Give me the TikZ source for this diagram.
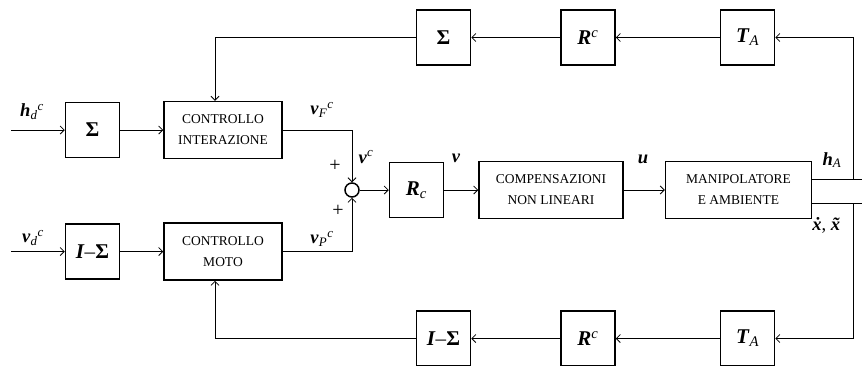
\documentclass[tikz,border=0pt]{standalone}
\usepackage{amsmath}
\usepackage{fontspec}
\setmainfont{Liberation Serif}
\usepackage{tikz}
\usetikzlibrary{arrows.meta,positioning,calc}
\newcommand{\bi}[1]{\textbf{\textit{#1}}}

\begin{document}
\begin{tikzpicture}[
  x=1pt,y=-1pt,
  blk/.style={rectangle,draw,line width=1.5pt,minimum width=54pt,minimum height=55pt,inner sep=0pt,font=\fontsize{21}{23}\selectfont},
  ctrl/.style={rectangle,draw,line width=1.5pt,minimum width=118pt,minimum height=57pt,inner sep=0pt,align=center,font=\fontsize{13.5}{21}\selectfont},
  sumnode/.style={circle,draw,line width=1.5pt,minimum size=14pt,inner sep=0pt},
  lbl/.style={inner sep=0pt,font=\fontsize{18.5}{20}\selectfont},
  sgn/.style={inner sep=0pt,font=\fontsize{20}{20}\selectfont},
  line/.style={-{Straight Barb[length=4pt,width=8pt]},line width=0.8pt}
]
  \useasboundingbox (0,0) rectangle (862,365);

  % ramo di forza
  \node[blk] (sigF) at (92.5,130) {\textbf{Σ}};
  \node[ctrl,right=43pt of sigF] (ctrlF) {CONTROLLO\\INTERAZIONE};
  % ramo di moto
  \node[blk] (sigP) at (92.5,251.5) {\bi{I}–\textbf{Σ}};
  \node[ctrl,right=43pt of sigP] (ctrlP) {CONTROLLO\\MOTO};
  % catena diretta
  \node[sumnode] (sum) at (352,190) {};
  \node[blk,right=29pt of sum] (Rc) {\bi{R}$_{\textit{c}}$};
  \node[ctrl,minimum width=144pt,right=34pt of Rc] (comp) {COMPENSAZIONI\\NON LINEARI};
  \node[ctrl,minimum width=146pt,right=41pt of comp] (manip) {MANIPOLATORE\\E AMBIENTE};
  % retroazione superiore
  \node[blk] (TF) at (747.5,37.5) {\bi{T}$_{\textit{A}}$};
  \node[blk,left=104pt of TF] (RF) {\bi{R}$^{\textit{c}}$};
  \node[blk,left=89pt of RF] (sigT) {\textbf{Σ}};
  % retroazione inferiore
  \node[blk] (TP) at (747.5,338.5) {\bi{T}$_{\textit{A}}$};
  \node[blk,left=104pt of TP] (RP) {\bi{R}$^{\textit{c}}$};
  \node[blk,left=89pt of RP] (sigB) {\bi{I}–\textbf{Σ}};

  \coordinate (hin) at (11,130);
  \coordinate (vin) at (11,251.5);
  \coordinate (hA) at ([yshift=11pt]manip.east);
  \coordinate (xd) at ([yshift=-13pt]manip.east);
  \coordinate (hAend) at (862,179);
  \coordinate (xdend) at (862,203);
  \coordinate (rtop) at (853,179);
  \coordinate (rbot) at (853,203);

  \draw[line] (hin) -- (sigF);
  \draw[line] (sigF) -- (ctrlF);
  \draw[line] (vin) -- (sigP);
  \draw[line] (sigP) -- (ctrlP);
  \draw[line] (ctrlF.east) -| (sum.north);
  \draw[line] (ctrlP.east) -| (sum.south);
  \draw[line] (sum) -- (Rc);
  \draw[line] (Rc) -- (comp);
  \draw[line] (comp) -- (manip);
  \draw[line width=0.8pt] (hA) -- (hAend);
  \draw[line width=0.8pt] (xd) -- (xdend);
  \draw[line] (rtop) |- (TF);
  \draw[line] (TF) -- (RF);
  \draw[line] (RF) -- (sigT);
  \draw[line] (sigT.west) -| ([xshift=-8pt]ctrlF.north);
  \draw[line] (rbot) |- (TP);
  \draw[line] (TP) -- (RP);
  \draw[line] (RP) -- (sigB);
  \draw[line] (sigB.west) -| ([xshift=-8pt]ctrlP.south);

  % etichette
  \node[lbl] (lhd) at (32,112) {\bi{h}$_{\textit{d}}{}^{\textit{c}}$};
  \node[lbl] (lvd) at (33,238) {\bi{v}$_{\textit{d}}{}^{\textit{c}}$};
  \node[lbl] (lvF) at (322,110) {\bi{v}$_{\textit{F}}{}^{\textit{c}}$};
  \node[lbl] (lvP) at (322,239) {\bi{v}$_{\textit{P}}{}^{\textit{c}}$};
  \node[lbl] (lvc) at (366,157) {\bi{v}$^{\textit{c}}$};
  \node[sgn] (pl1) at (335,166) {+};
  \node[sgn] (pl2) at (338,211) {+};
  \node[lbl] (lv) at (456,158) {\bi{v}};
  \node[lbl] (lu) at (643,159) {\bi{u}};
  \node[lbl] (lhA) at (832,160) {\bi{h}$_{\textit{A}}$};
  \node[lbl] (lx) at (830,225) {\bi{\.x}, \bi{\~x}};
\end{tikzpicture}
\end{document}
